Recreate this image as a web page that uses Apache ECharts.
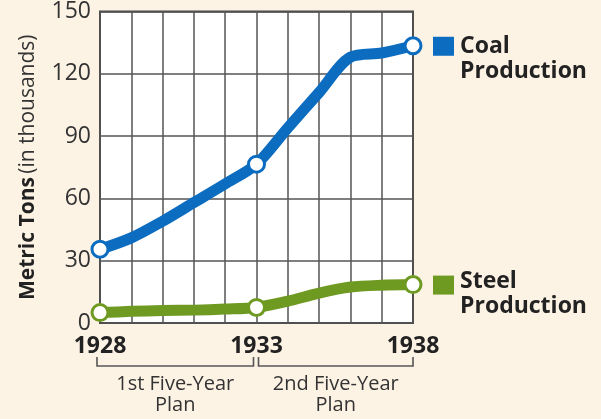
<!DOCTYPE html>
<html><head><meta charset="utf-8">
<script src="https://cdn.jsdelivr.net/npm/echarts@6/dist/echarts.min.js"></script>
<style>html,body{margin:0;padding:0;background:#fdf3e5;}#c{width:601px;height:419px;}</style>
</head><body><div id="c"></div>
<script>
const years = ['1928','1929','1930','1931','1932','1933','1934','1935','1936','1937','1938'];
const shownYears = ['1928','1933','1938'];
const coal = [35.5, 41, 49, 58, 67, 76.5, 94, 111, 128, 130, 133.5];
const steel = [5, 5.6, 6, 6.2, 6.7, 7.5, 10.5, 14.4, 17.3, 18.2, 18.5];
const yTicks = [0, 30, 60, 90, 120, 150];
const seriesNames = ['Coal', 'Steel'];
const plans = [['1st Five-Year', 'Plan', '1928', '1933'], ['2nd Five-Year', 'Plan', '1933', '1938']];

const BLUE = '#0b6cc0', GREEN = '#6e9a22', GRID = '#555', TXT = '#333';
const font = 'Open Sans';
const chart = echarts.init(document.getElementById('c'));
const markIdx = shownYears.map(y => years.indexOf(y));

function mkSeries(name, data, color) {
  return {
    name, type: 'line', data, smooth: 0.3,
    lineStyle: { color, width: 11, cap: 'round', join: 'round' },
    itemStyle: { color: '#fff', borderColor: color, borderWidth: 3 },
    symbol: 'circle', showSymbol: true,
    symbolSize: (v, p) => markIdx.includes(p.dataIndex) ? 16 : 0,
    z: 5, animation: false
  };
}

chart.setOption({
  backgroundColor: '#fdf3e5',
  animation: false,
  grid: { left: 100, right: 188, top: 10, bottom: 96, show: true, backgroundColor: '#fff', borderColor: '#444', borderWidth: 2 },
  xAxis: {
    type: 'category', data: years, boundaryGap: false,
    axisLine: { show: false }, axisTick: { show: false },
    splitLine: { show: true, interval: 0, lineStyle: { color: GRID, width: 1.5 } },
    axisLabel: {
      interval: 0, margin: 12,
      formatter: v => shownYears.includes(v) ? v : '',
      fontFamily: font, fontWeight: 'bold', fontSize: 23, color: '#222'
    }
  },
  yAxis: {
    type: 'value', min: yTicks[0], max: yTicks[yTicks.length-1], interval: 30,
    axisLine: { show: false }, axisTick: { show: false },
    splitLine: { lineStyle: { color: GRID, width: 1.5 } },
    axisLabel: { fontFamily: font, fontSize: 23, color: TXT, margin: 9, padding: [10, 0, 0, 0] },
    name: '{b|Metric Tons} {n|(in thousands)}',
    nameLocation: 'middle', nameGap: 61, nameRotate: 90,
    nameTextStyle: { rich: {
      b: { fontFamily: font, fontWeight: 'bold', fontSize: 21, color: '#222' },
      n: { fontFamily: font, fontSize: 21, color: TXT }
    } }
  },
  series: [mkSeries(seriesNames[0], coal, BLUE), mkSeries(seriesNames[1], steel, GREEN)]
});

// annotations positioned from the chart's own scales
const g = [];
const yBase = chart.convertToPixel({gridIndex: 0}, [0, 0])[1];
plans.forEach((p, i) => {
  let x1 = chart.convertToPixel({xAxisIndex: 0}, p[2]);
  let x2 = chart.convertToPixel({xAxisIndex: 0}, p[3]);
  if (i === 0) { x1 -= 3; x2 -= 3; } else { x1 += 2; }
  const yb = yBase + 43;
  g.push({ type: 'polyline', shape: { points: [[x1, yb - 9], [x1, yb], [x2, yb], [x2, yb - 9]] },
           style: { stroke: '#555', lineWidth: 1.6, fill: null } });
  const cx = (x1 + x2) / 2;
  g.push({ type: 'text', x: cx, y: yb + 18, style: { text: p[0], fontFamily: font, fontSize: 20, fill: TXT, align: 'center', verticalAlign: 'middle' } });
  g.push({ type: 'text', x: cx, y: yb + 39, style: { text: p[1], fontFamily: font, fontSize: 20, fill: TXT, align: 'center', verticalAlign: 'middle' } });
});
[[coal, BLUE, seriesNames[0], 1], [steel, GREEN, seriesNames[1], -3]].forEach(([d, col, nm, off]) => {
  const pt = chart.convertToPixel({gridIndex: 0}, [years.length - 1, d[d.length - 1]]);
  g.push({ type: 'rect', shape: { x: pt[0] + 20, y: pt[1] - 9, width: 21, height: 19 }, style: { fill: col } });
  g.push({ type: 'text', x: pt[0] + 47, y: pt[1] + off, style: { text: nm, fontFamily: font, fontWeight: 'bold', fontSize: 23, fill: '#222', verticalAlign: 'middle' } });
  g.push({ type: 'text', x: pt[0] + 47, y: pt[1] + off + 25, style: { text: 'Production', fontFamily: font, fontWeight: 'bold', fontSize: 23, fill: '#222', verticalAlign: 'middle' } });
});
chart.setOption({ graphic: g });
</script></body></html>
